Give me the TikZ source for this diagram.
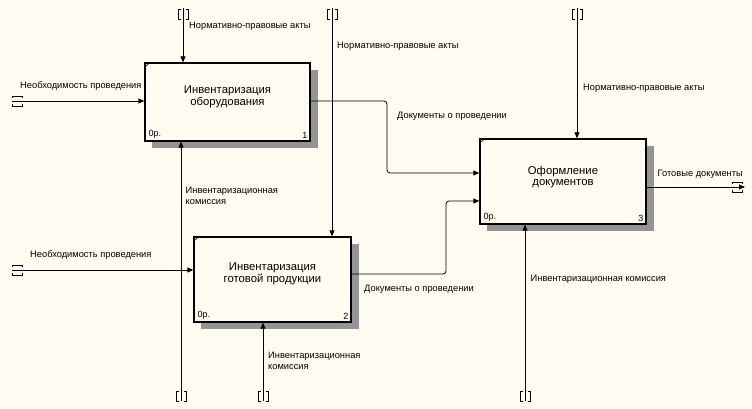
\documentclass[tikz,border=0pt]{standalone}
\usepackage{fontspec}
\setmainfont{Liberation Sans}
\usetikzlibrary{arrows.meta}
\definecolor{bg}{RGB}{255,251,240}
\begin{document}
\begin{tikzpicture}[x=1pt,y=-1pt,
  box/.style={draw, line width=1.3pt, fill=bg, inner sep=0pt},
  shadowfill/.style={fill=black!42},
  title/.style={align=center, font=\fontsize{11.3}{11.8}\selectfont, inner sep=0pt},
  lbl/.style={anchor=west, align=left, font=\fontsize{9.3}{11}\selectfont, inner sep=0pt},
  corner/.style={font=\fontsize{9}{11}\selectfont, inner sep=0pt},
  arr/.style={line width=0.8pt, -{Triangle[length=6pt,width=5pt]}},
  tun/.style={line width=0.8pt},
  pics/vtun/.style={code={
    \draw[tun] (-2.5,0) -- (-5,0) -- (-5,10) -- (-2.5,10);
    \draw[tun] (2.5,0) -- (5,0) -- (5,10) -- (2.5,10);}},
  pics/htun/.style={code={
    \draw[tun] (0,-3) -- (0,-5) -- (10,-5) -- (10,-3);
    \draw[tun] (0,3) -- (0,5) -- (10,5) -- (10,3);}}
]
\useasboundingbox (0,0) rectangle (752,409);
\fill[bg] (0,0) rectangle (752,409);

% shadows
\fill[shadowfill] (310,70) rectangle (318,148);
\fill[shadowfill] (152,141) rectangle (318,148);
\fill[shadowfill] (351,244) rectangle (359,329);
\fill[shadowfill] (201,322) rectangle (359,329);
\fill[shadowfill] (646,146) rectangle (654,231);
\fill[shadowfill] (487,224) rectangle (654,231);

% boxes
\node[box, minimum width=165pt, minimum height=78pt] (b1) at (227.5,102) {};
\node[box, minimum width=157pt, minimum height=85pt] (b2) at (272.5,279.5) {};
\node[box, minimum width=166pt, minimum height=85pt] (b3) at (563,181.5) {};

\foreach \b in {b1,b2,b3}{
  \draw[line width=0.6pt] ([yshift=-5pt]\b.north west) -- ([xshift=6pt]\b.north west);
}

\node[title] (t1) at ([yshift=5pt]b1.center) {Инвентаризация\\оборудования};
\node[title] (t2) at ([yshift=6pt]b2.center) {Инвентаризация\\готовой продукции};
\node[title] (t3) at ([yshift=4.5pt]b3.center) {Оформление\\документов};

\node[corner, anchor=south west] (z1) at ([xshift=4pt,yshift=3pt]b1.south west) {0р.};
\node[corner, anchor=south east] (n1) at ([xshift=-3pt,yshift=3pt]b1.south east) {1};
\node[corner, anchor=south west] (z2) at ([xshift=4pt,yshift=3pt]b2.south west) {0р.};
\node[corner, anchor=south east] (n2) at ([xshift=-3pt,yshift=3pt]b2.south east) {2};
\node[corner, anchor=south west] (z3) at ([xshift=4pt,yshift=3pt]b3.south west) {0р.};
\node[corner, anchor=south east] (n3) at ([xshift=-3pt,yshift=3pt]b3.south east) {3};

% free ends
\coordinate (in1) at (12,101);
\coordinate (in2) at (12,270);
\coordinate (c1) at (183,8);
\coordinate (c2) at (332,8);
\coordinate (c3) at (577,8);
\coordinate (m1) at (181,401);
\coordinate (m2) at (263,401);
\coordinate (m3) at (525,401);
\coordinate (o3) at (745,187);
\coordinate (k1) at (387,0);
\coordinate (k2) at (446,0);
\coordinate (e31) at ([yshift=8.5pt]b3.west);
\coordinate (e32) at ([yshift=-19.5pt]b3.west);
\coordinate (s1) at ([yshift=1pt]b1.east);
\coordinate (s2) at ([yshift=5.5pt]b2.east);
\coordinate (s3) at ([yshift=-5.5pt]b3.east);

% tunnels
\pic at (183,9) {vtun};
\pic at (332,9) {vtun};
\pic at (577,9) {vtun};
\pic at (181,391) {vtun};
\pic at (263,391) {vtun};
\pic at (525,391) {vtun};
\pic at (12,101) {htun};
\pic at (12,270) {htun};
\pic at (732,187) {htun};

% connectors
\draw[arr] (in1) -- (in1 -| b1.west);
\draw[arr] (in2) -- (in2 -| b2.west);
\draw[arr] (c1) -- (c1 |- b1.north);
\draw[arr] (c2) -- (c2 |- b2.north);
\draw[arr] (c3) -- (c3 |- b3.north);
\draw[arr] (m1) -- (m1 |- b1.south);
\draw[arr] (m2) -- (m2 |- b2.south);
\draw[arr] (m3) -- (m3 |- b3.south);
\draw[arr, rounded corners=3pt] (s1) -- (s1 -| k1) -- (k1 |- e31) -- (e31);
\draw[arr, rounded corners=3pt] (s2) -- (s2 -| k2) -- (k2 |- e32) -- (e32);
\draw[arr] (s3) -- (o3);

% labels
\node[lbl] (l1) at (189,26) {Нормативно-правовые акты};
\node[lbl] (l2) at (20,86) {Необходимость проведения};
\node[lbl] (l3) at (337,46.5) {Нормативно-правовые акты};
\node[lbl] (l4) at (397,116) {Документы о проведении};
\node[lbl] (l5) at (583,88) {Нормативно-правовые акты};
\node[lbl] (l6) at (185.5,195.5) {Инвентаризационная\\комиссия};
\node[lbl] (l7) at (30,255) {Необходимость проведения};
\node[lbl] (l8) at (268,360.5) {Инвентаризационная\\комиссия};
\node[lbl] (l9) at (364,289) {Документы о проведении};
\node[lbl] (l10) at (530.5,279) {Инвентаризационная комиссия};
\node[lbl] (l11) at (657.5,174.5) {Готовые документы};
\end{tikzpicture}
\end{document}
